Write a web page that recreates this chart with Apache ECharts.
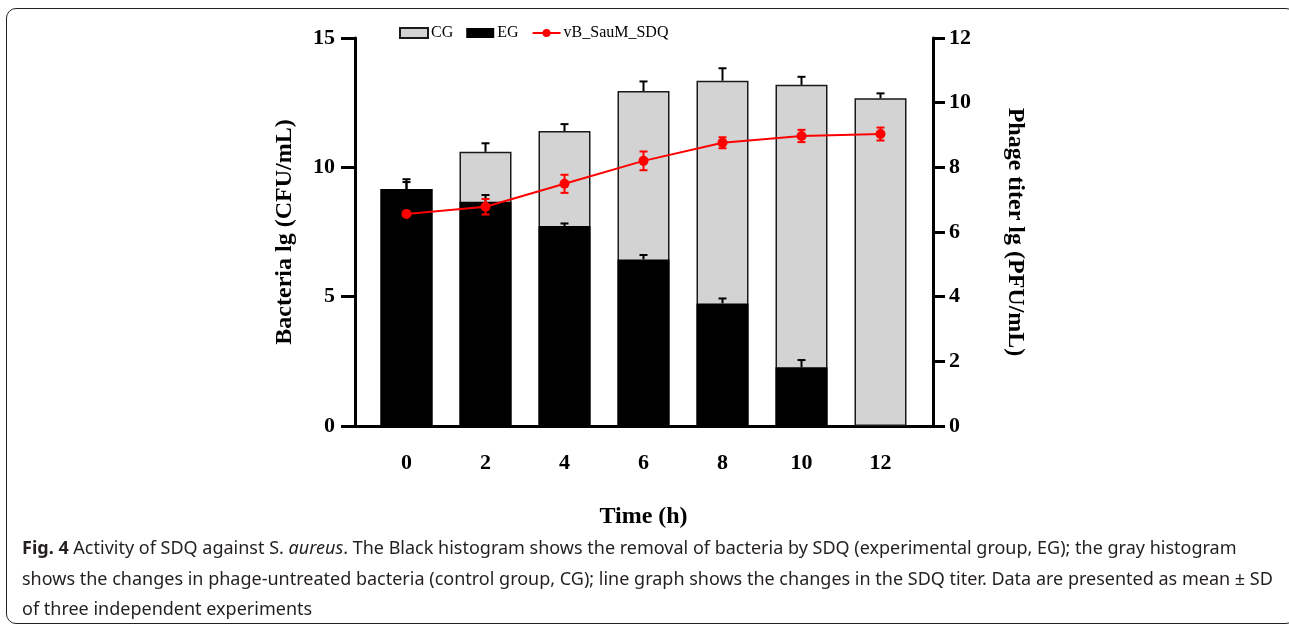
<!DOCTYPE html>
<html>
<head>
<meta charset="utf-8">
<script src="https://cdn.jsdelivr.net/npm/echarts@6/dist/echarts.min.js"></script>
<style>
  html, body { margin: 0; padding: 0; background: #fff; }
  #wrap { position: relative; width: 1289px; height: 626px; overflow: hidden; }
  #chart { position: absolute; left: 0; top: 0; width: 1289px; height: 626px; }
  #frame { position: absolute; left: 6px; top: 8px; width: 1290px; height: 616px;
           border: 1.5px solid #222; border-radius: 10px; box-sizing: border-box; pointer-events: none; }
  #cap { position: absolute; left: 22px; top: 532px; font-family: 'Noto Sans', sans-serif; font-size: 18px;
         line-height: 30.5px; color: #231f20; white-space: nowrap; }
</style>
</head>
<body>
<div id="wrap">
  <div id="chart"></div>
  <div id="frame"></div>
  <div id="cap"><b>Fig. 4</b> Activity of SDQ against S. <i>aureus</i>. The Black histogram shows the removal of bacteria by SDQ (experimental group, EG); the gray histogram<br>shows the changes in phage-untreated bacteria (control group, CG); line graph shows the changes in the SDQ titer. Data are presented as mean ± SD<br>of three independent experiments</div>
</div>
<script>
// ---- data ----
const categories = ['0', '2', '4', '6', '8', '10', '12'];
const cgMean = [9.16, 10.60, 11.40, 12.95, 13.35, 13.19, 12.67];
const cgSD   = [0.38, 0.33, 0.27, 0.37, 0.48, 0.31, 0.19];
const egMean = [9.16, 8.67, 7.73, 6.44, 4.74, 2.27, 0];
const egSD   = [0.27, 0.26, 0.10, 0.17, 0.19, 0.28, 0];
const phageMean = [6.56, 6.78, 7.49, 8.20, 8.76, 8.97, 9.03];
const phageSD   = [0, 0.24, 0.28, 0.29, 0.17, 0.19, 0.20];
const leftTicks = { min: 0, max: 15, interval: 5 };
const rightTicks = { min: 0, max: 12, interval: 2 };

const serif = "'Liberation Serif', 'Times New Roman', serif";

function errData(means, sds) {
  return means.map((m, i) => [i, m, sds[i]]);
}
function errRenderer(color, both) {
  return function (params, api) {
    const i = api.value(0), m = api.value(1), sd = api.value(2);
    if (!sd) return null;
    const top = api.coord([i, m + sd]);
    const bot = api.coord([i, both ? m - sd : m]);
    const hw = 4;
    const style = { stroke: color, lineWidth: 2 };
    const children = [
      { type: 'line', shape: { x1: top[0], y1: top[1], x2: bot[0], y2: bot[1] }, style },
      { type: 'line', shape: { x1: top[0] - hw, y1: top[1], x2: top[0] + hw, y2: top[1] }, style }
    ];
    if (both) children.push({ type: 'line', shape: { x1: bot[0] - hw, y1: bot[1], x2: bot[0] + hw, y2: bot[1] }, style });
    return { type: 'group', children };
  };
}

const chart = echarts.init(document.getElementById('chart'), null, { renderer: 'canvas' });
const axisLineStyle = { color: '#000', width: 3 };
const labelStyle = { color: '#000', fontFamily: serif, fontWeight: 'bold', fontSize: 22 };
const nameStyle = { color: '#000', fontFamily: serif, fontWeight: 'bold', fontSize: 24 };

chart.setOption({
  animation: false,
  legend: {
    data: [
      { name: 'CG', icon: 'rect' },
      { name: 'EG', icon: 'rect' },
      { name: 'vB_SauM_SDQ' }
    ],
    left: 399, top: 25, padding: 0,
    itemWidth: 28, itemHeight: 10, itemGap: 13,
    textStyle: { fontFamily: serif, fontSize: 16, color: '#000', padding: [0, 0, 0, -2] }
  },
  grid: [
    { left: 367, right: 369, top: 38, height: 388 },
    { left: 355, right: 356, top: 38, height: 388 }
  ],
  xAxis: [
    {
      type: 'category', gridIndex: 0, data: categories,
      axisLine: { show: false },
      axisTick: { alignWithLabel: true, length: 15, lineStyle: { color: '#000', width: 3 } },
      axisLabel: Object.assign({ margin: 26 }, labelStyle),
      name: 'Time (h)', nameLocation: 'middle', nameGap: 79, nameTextStyle: nameStyle
    },
    {
      type: 'value', gridIndex: 1, min: 0, max: 1,
      axisLine: { show: true, lineStyle: axisLineStyle },
      axisTick: { show: false }, axisLabel: { show: false }, splitLine: { show: false }
    }
  ],
  yAxis: [
    {
      type: 'value', gridIndex: 0, position: 'left', offset: 12,
      min: leftTicks.min, max: leftTicks.max, interval: leftTicks.interval,
      axisLine: { show: true, lineStyle: axisLineStyle },
      axisTick: { show: true, length: 14, lineStyle: { color: '#000', width: 3 } },
      axisLabel: Object.assign({ margin: 20 }, labelStyle),
      splitLine: { show: false },
      name: 'Bacteria lg (CFU/mL)', nameLocation: 'middle', nameGap: 58, nameTextStyle: nameStyle
    },
    {
      type: 'value', gridIndex: 0, position: 'right', offset: 13,
      min: rightTicks.min, max: rightTicks.max, interval: rightTicks.interval,
      axisLine: { show: true, lineStyle: axisLineStyle },
      axisTick: { show: true, length: 12, lineStyle: { color: '#000', width: 3 } },
      axisLabel: Object.assign({ margin: 16 }, labelStyle),
      splitLine: { show: false },
      name: 'Phage titer lg (PFU/mL)', nameLocation: 'middle', nameGap: 70, nameRotate: -90, nameTextStyle: nameStyle
    },
    { type: 'value', gridIndex: 1, min: 0, max: 1, show: false }
  ],
  series: [
    {
      name: 'CG', type: 'bar', xAxisIndex: 0, yAxisIndex: 0, data: cgMean,
      barWidth: 52, barGap: '-100%',
      itemStyle: { color: '#d3d3d3', borderColor: '#1a1a1a', borderWidth: 1.5 }, z: 2
    },
    {
      name: 'EG', type: 'bar', xAxisIndex: 0, yAxisIndex: 0, data: egMean,
      barWidth: 52, barGap: '-100%',
      itemStyle: { color: '#000', borderWidth: 0 }, z: 3
    },
    {
      name: 'CG err', type: 'custom', xAxisIndex: 0, yAxisIndex: 0,
      data: errData(cgMean, cgSD), renderItem: errRenderer('#000', false), z: 4, silent: true
    },
    {
      name: 'EG err', type: 'custom', xAxisIndex: 0, yAxisIndex: 0,
      data: errData(egMean, egSD), renderItem: errRenderer('#000', false), z: 4, silent: true
    },
    {
      name: 'vB_SauM_SDQ', type: 'line', xAxisIndex: 0, yAxisIndex: 1, data: phageMean,
      symbol: 'circle', symbolSize: 10,
      lineStyle: { color: '#ff0000', width: 2 }, itemStyle: { color: '#ff0000' }, z: 6
    },
    {
      name: 'phage err', type: 'custom', xAxisIndex: 0, yAxisIndex: 1,
      data: errData(phageMean, phageSD), renderItem: errRenderer('#ff0000', true), z: 5, silent: true
    }
  ]
});
</script>
</body>
</html>
